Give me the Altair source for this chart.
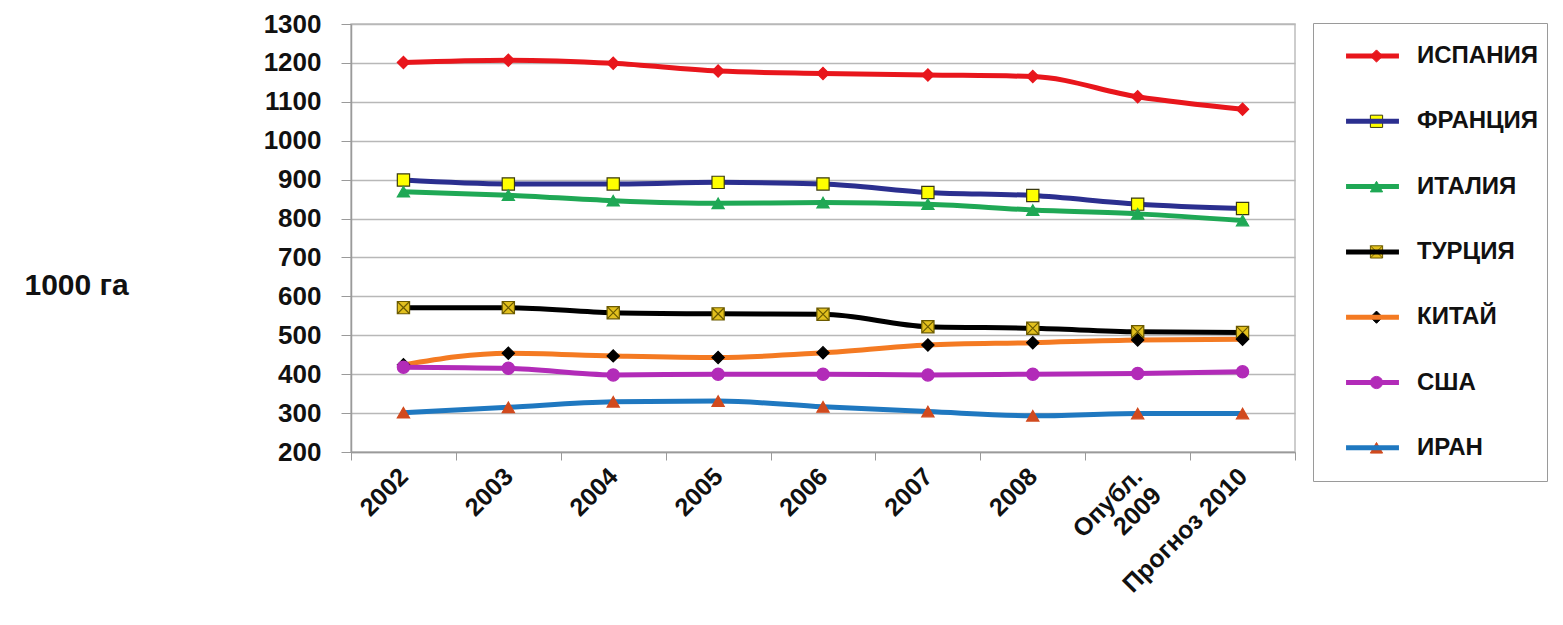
import altair as alt
import pandas as pd

years = ["2002", "2003", "2004", "2005", "2006", "2007", "2008", "Опубл. 2009", "Прогноз 2010"]
countries = ["ИСПАНИЯ", "ФРАНЦИЯ", "ИТАЛИЯ", "ТУРЦИЯ", "КИТАЙ", "США", "ИРАН"]

spain = [1201, 1207, 1199, 1179, 1173, 1169, 1165, 1113, 1081]
france = [899, 889, 889, 893, 889, 867, 859, 837, 826]
italy = [869, 860, 846, 839, 841, 837, 822, 812, 795]
turkey = [571, 571, 558, 555, 554, 522, 518, 509, 507]
china = [424, 454, 447, 443, 455, 475, 481, 488, 490]
usa = [418, 415, 398, 400, 400, 398, 400, 402, 406]
iran = [301, 315, 329, 331, 316, 304, 293, 299, 299]

series = [spain, france, italy, turkey, china, usa, iran]

line_colors = ["#e8161c", "#2b2f8f", "#1fa855", "#000000", "#f47a22", "#b22bb8", "#1f78c0"]
marker_fills = ["#e8161c", "#ffff00", "#1fa855", "#e2c01e", "#000000", "#b22bb8", "#d14a1e"]
marker_strokes = ["#e8161c", "#3a3a10", "#1fa855", "#6b5a00", "#000000", "#b22bb8", "#d14a1e"]
marker_shapes = ["diamond", "square", "triangle-up",
                 "M-1,-1L1,-1L1,1L-1,1ZM-1,-1L1,1M1,-1L-1,1",
                 "diamond", "circle", "triangle-up"]

rows = []
for c, vals in zip(countries, series):
    for y, v in zip(years, vals):
        rows.append({"year": y, "country": c, "value": v})
df = pd.DataFrame(rows)

FONT = "Liberation Sans"

x_enc = alt.X(
    "year:N",
    sort=years,
    scale=alt.Scale(type="band", paddingInner=0, paddingOuter=0),
    bandPosition=0.5,
    axis=alt.Axis(
        title=None, grid=False, tickBand="extent", tickSize=8,
        domainColor="#9a9a9a", tickColor="#9a9a9a", domainWidth=1.5,
        labelAngle=-45, labelAlign="right", labelBaseline="middle",
        labelFontSize=25, labelFontWeight="bold", labelFont=FONT,
        labelColor="#111111", labelPadding=12, labelOverlap=False,
        labelExpr="datum.label == 'Опубл. 2009' ? ['Опубл.', '2009'] : datum.label",
    ),
)

y_enc = alt.Y(
    "value:Q",
    scale=alt.Scale(domain=[200, 1300], nice=False, zero=False),
    axis=alt.Axis(
        values=list(range(200, 1301, 100)), format="d",
        title="1000    га", titleAngle=0, titleX=-327, titleY=261,
        titleAlign="left", titleBaseline="middle",
        titleFontSize=30, titleFontWeight="bold", titleFont=FONT, titleColor="#111111",
        labelFontSize=26, labelFontWeight="bold", labelFont=FONT, labelColor="#111111",
        labelPadding=20, tickSize=10, tickColor="#9a9a9a",
        domainColor="#9a9a9a", domainWidth=1.5,
        gridColor="#b8b8b8", gridWidth=1.5,
    ),
)

common_legend = dict(
    orient="none", legendX=962, legendY=-1, direction="vertical",
    title=None, labelFontSize=24, labelFontWeight="bold", labelFont=FONT,
    labelColor="#111111", clipHeight=50, rowPadding=15.3, padding=8,
)

lines = alt.Chart(df).mark_line(strokeWidth=5, interpolate="monotone").encode(
    x=x_enc,
    y=y_enc,
    color=alt.Color(
        "country:N",
        sort=countries,
        scale=alt.Scale(domain=countries, range=line_colors),
        legend=alt.Legend(
            symbolType="stroke", symbolSize=2800, symbolStrokeWidth=5,
            symbolOffset=22.5, labelOffset=15.5,
            strokeColor="#9a9a9a", **common_legend,
        ),
    ),
    detail="country:N",
)

marker_legend = alt.Legend(
    symbolSize=150, symbolOffset=43.5, labelExpr="''", labelOffset=15.5,
    symbolStrokeWidth=1, **common_legend,
)

points = alt.Chart(df).mark_point(filled=True, size=150, opacity=1, strokeWidth=1.2).encode(
    x=x_enc,
    y=y_enc,
    fill=alt.Fill("country:N", sort=countries,
                  scale=alt.Scale(domain=countries, range=marker_fills),
                  legend=marker_legend),
    shape=alt.Shape("country:N", sort=countries,
                    scale=alt.Scale(domain=countries, range=marker_shapes),
                    legend=marker_legend),
    stroke=alt.Stroke("country:N", scale=alt.Scale(domain=countries, range=marker_strokes),
                      legend=None),
)

chart = alt.layer(lines, points).resolve_legend(color="independent").properties(
    width=944, height=428,
    padding={"left": 16, "top": 3, "right": 0, "bottom": 0},
    background="white",
).configure_view(stroke="#bdbdbd", strokeWidth=1.5)

chart.save("out.html", embed_options={"renderer": "svg", "actions": False})
